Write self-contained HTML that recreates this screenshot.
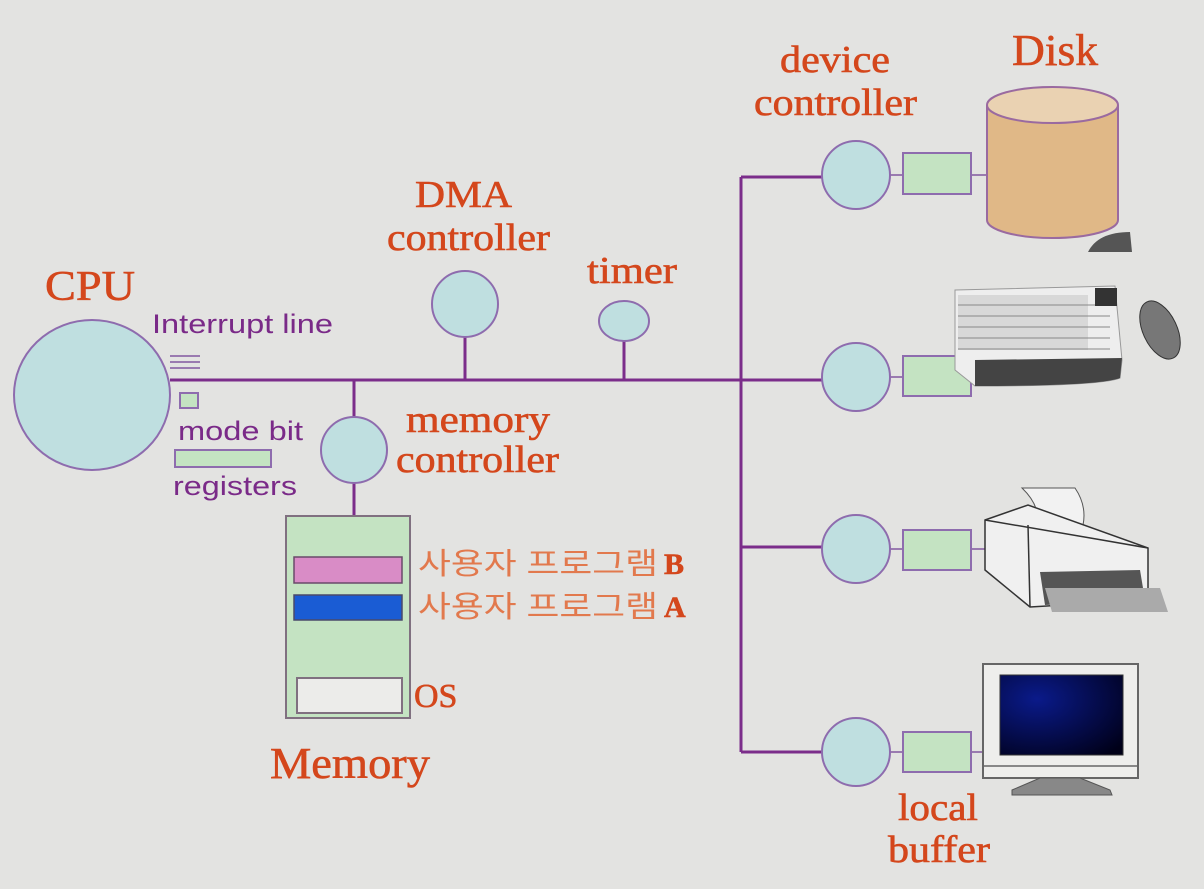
<!DOCTYPE html>
<html><head><meta charset="utf-8"><style>
html,body{margin:0;padding:0;background:#e3e3e1;}
svg{display:block}
.s{font-family:"Liberation Serif",serif;fill:#d4471c;stroke:#d4471c;stroke-width:0.6;}
.p{font-family:"Liberation Sans",sans-serif;fill:#7a2a88;font-size:27px;}
.k{font-family:"Liberation Sans","Noto Sans CJK KR",sans-serif;fill:#e2794d;font-size:30px;}
</style></head><body>
<svg width="1204" height="889" viewBox="0 0 1204 889" xmlns="http://www.w3.org/2000/svg">
<rect width="1204" height="889" fill="#e3e3e1"/>
<g stroke="#7b2d8a" stroke-width="3" fill="none">
<line x1="170" y1="380" x2="822" y2="380"/>
<line x1="741" y1="177" x2="741" y2="752"/>
<line x1="741" y1="177" x2="822" y2="177"/>
<line x1="741" y1="547" x2="822" y2="547"/>
<line x1="741" y1="752" x2="822" y2="752"/>
<line x1="465" y1="337" x2="465" y2="380"/>
<line x1="624" y1="341" x2="624" y2="380"/>
<line x1="354" y1="380" x2="354" y2="417"/>
<line x1="354" y1="483" x2="354" y2="516"/>
</g>
<g stroke="#9a7ab0" stroke-width="2">
<line x1="170" y1="356" x2="200" y2="356"/><line x1="170" y1="362" x2="200" y2="362"/><line x1="170" y1="368" x2="200" y2="368"/>
<line x1="889" y1="175" x2="903" y2="175"/><line x1="971" y1="175" x2="987" y2="175"/>
<line x1="889" y1="377" x2="903" y2="377"/>
<line x1="889" y1="549" x2="903" y2="549"/><line x1="971" y1="549" x2="985" y2="549"/>
<line x1="889" y1="752" x2="903" y2="752"/><line x1="971" y1="752" x2="985" y2="752"/>
</g>
<g fill="#bfdfe0" stroke="#8e6cae" stroke-width="2">
<ellipse cx="92" cy="395" rx="78" ry="75"/>
<circle cx="465" cy="304" r="33"/>
<ellipse cx="624" cy="321" rx="25" ry="20"/>
<circle cx="354" cy="450" r="33"/>
<circle cx="856" cy="175" r="34"/>
<circle cx="856" cy="377" r="34"/>
<circle cx="856" cy="549" r="34"/>
<circle cx="856" cy="752" r="34"/>
</g>
<g fill="#c4e3c2" stroke="#8e6cae" stroke-width="2">
<rect x="180" y="393" width="18" height="15"/>
<rect x="175" y="450" width="96" height="17"/>
<rect x="903" y="153" width="68" height="41"/>
<rect x="903" y="356" width="68" height="40"/>
<rect x="903" y="530" width="68" height="40"/>
<rect x="903" y="732" width="68" height="40"/>
<rect x="286" y="516" width="124" height="202" stroke="#807080"/>
</g>
<rect x="294" y="557" width="108" height="26" fill="#d98cc6" stroke="#6a4a6a" stroke-width="1.5"/>
<rect x="294" y="595" width="108" height="25" fill="#1a5cd4" stroke="#4a4a6a" stroke-width="1.5"/>
<rect x="297" y="678" width="105" height="35" fill="#ececea" stroke="#807080" stroke-width="2"/>
<!-- disk -->
<path d="M987,105 L987,220 A65.5,18 0 0 0 1118,220 L1118,105" fill="#e0b887" stroke="#9a6aa0" stroke-width="2"/>
<ellipse cx="1052.5" cy="105" rx="65.5" ry="18" fill="#ead2b2" stroke="#9a6aa0" stroke-width="2"/>
<!-- keyboard -->
<path d="M1088,252 Q1098,232 1130,232 L1132,252 Z" fill="#555"/>
<path d="M955,290 L1115,286 L1122,360 L1120,378 Q1100,386 975,386 L955,370 Z" fill="#eeeeee" stroke="#999" stroke-width="1"/>
<rect x="958" y="295" width="130" height="55" fill="#d8d8d8"/>
<g stroke="#888" stroke-width="1">
<line x1="958" y1="305" x2="1110" y2="305"/><line x1="958" y1="316" x2="1110" y2="316"/><line x1="958" y1="327" x2="1110" y2="327"/><line x1="958" y1="338" x2="1110" y2="338"/><line x1="958" y1="349" x2="1110" y2="349"/>
</g>
<rect x="1095" y="288" width="22" height="18" fill="#333"/>
<path d="M975,360 L1122,358 L1120,378 Q1100,386 975,386 Z" fill="#444"/>
<ellipse cx="1160" cy="330" rx="17" ry="31" transform="rotate(-25 1160 330)" fill="#777" stroke="#333"/>
<!-- printer -->
<path d="M1022,488 L1075,488 Q1090,510 1080,535 L1035,535 Q1045,510 1022,488Z" fill="#f2f2f2" stroke="#555"/>
<path d="M985,520 L1028,505 L1148,548 L1148,600 L1030,607 L985,570 Z" fill="#f0f0f0" stroke="#333" stroke-width="1.5"/>
<path d="M985,520 L1102,540 L1148,548" fill="none" stroke="#333" stroke-width="1.5"/>
<line x1="1028" y1="525" x2="1030" y2="607" stroke="#333" stroke-width="1.5"/>
<path d="M1040,572 L1140,570 L1145,600 L1045,605Z" fill="#555"/>
<path d="M1045,588 L1160,588 L1168,612 L1052,612Z" fill="#aaa"/>
<!-- monitor -->
<rect x="983" y="664" width="155" height="114" fill="#eeeeec" stroke="#666" stroke-width="2"/>
<line x1="983" y1="766" x2="1138" y2="766" stroke="#666" stroke-width="1.5"/>
<defs><radialGradient id="g" cx="0.3" cy="0.3" r="0.9"><stop offset="0" stop-color="#0a1a8a"/><stop offset="1" stop-color="#000018"/></radialGradient></defs>
<rect x="1000" y="675" width="123" height="80" fill="url(#g)" stroke="#333"/>
<path d="M1040,778 L1080,778 L1110,790 L1112,795 L1012,795 L1012,790Z" fill="#888" stroke="#555"/>
<!-- text -->
<text class="s" x="45" y="300" font-size="42" textLength="90" lengthAdjust="spacingAndGlyphs">CPU</text>
<text class="p" x="152" y="333" textLength="181" lengthAdjust="spacingAndGlyphs">Interrupt line</text>
<text class="p" x="178" y="440" textLength="125" lengthAdjust="spacingAndGlyphs">mode bit</text>
<text class="p" x="173" y="495" textLength="124" lengthAdjust="spacingAndGlyphs">registers</text>
<text class="s" x="415" y="207" font-size="38" textLength="97" lengthAdjust="spacingAndGlyphs">DMA</text>
<text class="s" x="387" y="250" font-size="38" textLength="163" lengthAdjust="spacingAndGlyphs">controller</text>
<text class="s" x="587" y="283" font-size="38" textLength="90" lengthAdjust="spacingAndGlyphs">timer</text>
<text class="s" x="406" y="432" font-size="38" textLength="144" lengthAdjust="spacingAndGlyphs">memory</text>
<text class="s" x="396" y="472" font-size="38" textLength="163" lengthAdjust="spacingAndGlyphs">controller</text>
<text class="s" x="780" y="72" font-size="38" textLength="110" lengthAdjust="spacingAndGlyphs">device</text>
<text class="s" x="754" y="115" font-size="38" textLength="163" lengthAdjust="spacingAndGlyphs">controller</text>
<text class="s" x="1012" y="65" font-size="44" textLength="86" lengthAdjust="spacingAndGlyphs">Disk</text>
<text class="s" x="270" y="778" font-size="44" textLength="160" lengthAdjust="spacingAndGlyphs">Memory</text>
<text class="s" x="898" y="820" font-size="38" textLength="80" lengthAdjust="spacingAndGlyphs">local</text>
<text class="s" x="888" y="862" font-size="38" textLength="102" lengthAdjust="spacingAndGlyphs">buffer</text>
<text class="k" x="418" y="574" textLength="240" lengthAdjust="spacingAndGlyphs">사용자 프로그램</text>
<text class="s" x="664" y="574" font-size="30" font-weight="bold">B</text>
<text class="k" x="418" y="617" textLength="240" lengthAdjust="spacingAndGlyphs">사용자 프로그램</text>
<text class="s" x="664" y="617" font-size="30" font-weight="bold">A</text>
<text class="s" x="414" y="707" font-size="34">OS</text>
</svg>
</body></html>
